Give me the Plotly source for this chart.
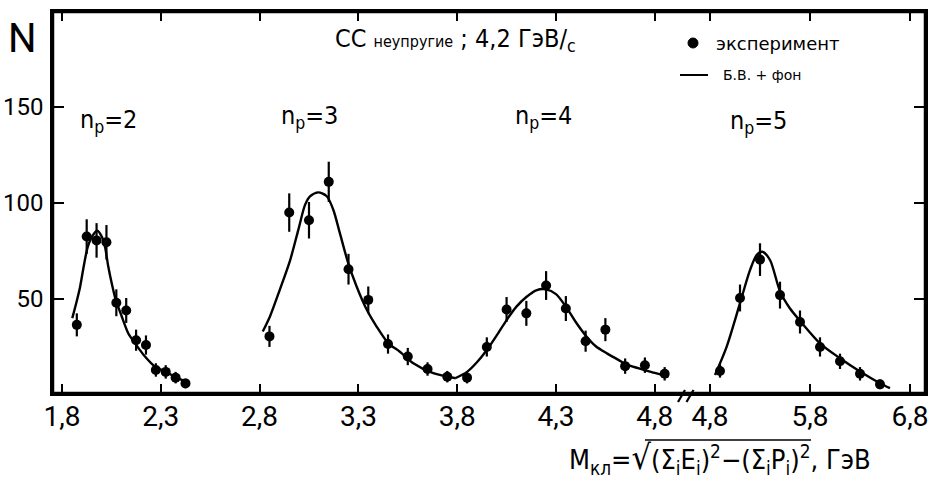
import plotly.graph_objects as go

# ---------------- data ----------------
np2_x = [1.875, 1.925, 1.975, 2.025, 2.075, 2.125, 2.175, 2.225, 2.275, 2.325, 2.375, 2.425]
np2_n = [36.5, 82.5, 80.5, 79.5, 48, 44, 28.5, 26, 13, 12, 9, 6]
np2_err = [6, 9, 9, 9, 7, 6.5, 5.5, 5, 3.5, 3.5, 3, 2.5]

np3_x = [2.85, 2.95, 3.05, 3.15, 3.25, 3.35, 3.45, 3.55, 3.65, 3.75]
np3_n = [30.5, 95, 91, 111, 65.5, 49.5, 26.5, 20, 13.5, 9.5]
np3_err = [5.5, 10, 9.5, 10.5, 8, 7, 5, 4.5, 3.5, 3]

np4_x = [3.85, 3.95, 4.05, 4.15, 4.25, 4.35, 4.45, 4.55, 4.65, 4.75, 4.85]
np4_n = [9, 25, 44.5, 42.5, 57, 45, 28, 34, 15, 15.5, 11]
np4_err = [3, 5, 6.5, 6.5, 7.5, 6.5, 5.5, 6, 4, 4, 3.5]

np5_x = [4.9, 5.1, 5.3, 5.5, 5.7, 5.9, 6.1, 6.3, 6.5]
np5_n = [12.5, 50.5, 70.5, 52, 38, 25, 17.5, 11, 5.5]
np5_err = [3.5, 7, 8.5, 7, 6, 5, 4, 3.5, 2.5]

c2_x = [1.852, 1.870, 1.891, 1.910, 1.930, 1.955, 1.979, 2.001, 2.018, 2.034, 2.052,
        2.072, 2.102, 2.136, 2.169, 2.220, 2.271, 2.338, 2.406, 2.439]
c2_n = [40, 47, 56, 67, 77, 83, 85.5, 82.5, 77, 67, 58, 49.5, 41, 32, 27, 20, 14.7, 11.3, 7.8, 6.4]

c3_x = [2.816, 2.853, 2.903, 2.954, 2.996, 3.030, 3.055, 3.097, 3.140, 3.173, 3.207,
        3.249, 3.291, 3.342, 3.393, 3.451, 3.510, 3.578, 3.679, 3.792]
c3_n = [33, 41, 55, 70, 86, 99, 103.5, 105.5, 103.5, 96.5, 84, 68.5, 56.5, 44.5, 35.5,
        27, 22.5, 16.5, 11.3, 8.7]

c4_x = [3.79, 3.85, 3.90, 3.95, 4.00, 4.05, 4.10, 4.15, 4.20, 4.25, 4.30, 4.35, 4.40,
        4.45, 4.50, 4.56, 4.62, 4.66, 4.74, 4.80, 4.87]
c4_n = [8.7, 12, 17, 23.4, 31, 39, 46, 51, 54.5, 55, 52.5, 46, 38, 31, 25.5, 21.5, 18,
        15.8, 13.2, 11.5, 9.5]

c5_x = [4.85, 4.967, 5.10, 5.20, 5.267, 5.323, 5.40, 5.50, 5.60, 5.707, 5.90, 6.10, 6.30, 6.50, 6.60]
c5_n = [10.4, 25.2, 47.8, 65, 72.9, 74.6, 70.3, 54, 45, 38.2, 26.9, 19.1, 12.2, 6.1, 3.5]

left_ticks = [1.8, 2.3, 2.8, 3.3, 3.8, 4.3, 4.8]
left_ticktext = ["1,8", "2,3", "2,8", "3,3", "3,8", "4,3", "4,8"]
right_ticks = [4.8, 5.8, 6.8]
right_ticktext = ["4,8", "5,8", "6,8"]
y_ticks = [50, 100, 150]
y_ticktext = ["50", "100", "150"]

group_labels = ["n<sub>p</sub>=2", "n<sub>p</sub>=3", "n<sub>p</sub>=4", "n<sub>p</sub>=5"]

# ---------------- figure ----------------
W, H = 933, 485
ML, MR, MT, MB = 53, 8, 12, 92
PW, PH = W - ML - MR, H - MT - MB
FONT = "DejaVu Sans Condensed, Roboto, sans-serif"
TICKFONT = "Roboto, sans-serif"
HAND = "DejaVu Sans, sans-serif"


def px(x):
    return (x - ML) / PW


def py(y):
    return (H - MB - y) / PH


brk = px(686)

fig = go.Figure()

curve_line = dict(color="black", width=2.4, shape="spline", smoothing=0.8)
for xs, ns in [(c2_x, c2_n), (c3_x, c3_n), (c4_x, c4_n)]:
    fig.add_trace(go.Scatter(x=xs, y=ns, mode="lines", xaxis="x", yaxis="y",
                             line=curve_line, hoverinfo="skip", name="Б.В. + фон"))
fig.add_trace(go.Scatter(x=c5_x, y=c5_n, mode="lines", xaxis="x2", yaxis="y2",
                         line=curve_line, hoverinfo="skip", name="Б.В. + фон"))

for xs, ns, es in [(np2_x, np2_n, np2_err), (np3_x, np3_n, np3_err), (np4_x, np4_n, np4_err)]:
    fig.add_trace(go.Scatter(x=xs, y=ns, mode="markers", xaxis="x", yaxis="y",
                             marker=dict(color="black", size=10),
                             error_y=dict(type="data", array=es, color="black", thickness=2.2, width=0),
                             name="эксперимент"))
fig.add_trace(go.Scatter(x=np5_x, y=np5_n, mode="markers", xaxis="x2", yaxis="y2",
                         marker=dict(color="black", size=10),
                         error_y=dict(type="data", array=np5_err, color="black", thickness=2.2, width=0),
                         name="эксперимент"))

axis_common = dict(ticks="inside", tickwidth=2, tickcolor="black", showline=True,
                   linewidth=2.5, linecolor="black", mirror="ticks", showgrid=False,
                   zeroline=False, automargin=False, ticklabelstandoff=-3,
                   tickfont=dict(family=TICKFONT, size=28, color="black"))
yrange = [1, 199.5]

fig.update_layout(
    width=W, height=H,
    margin=dict(l=ML, r=MR, t=MT, b=MB, autoexpand=False),
    paper_bgcolor="white", plot_bgcolor="white",
    showlegend=False,
    xaxis=dict(domain=[0, brk], range=[1.7545, 4.958], anchor="y",
               tickvals=left_ticks, ticktext=left_ticktext, ticklen=9, **axis_common),
    xaxis2=dict(domain=[brk, 1], range=[4.56, 6.95], anchor="y2",
                tickvals=right_ticks, ticktext=right_ticktext, ticklen=9, **axis_common),
    yaxis=dict(range=yrange, anchor="x", tickvals=y_ticks, ticktext=y_ticktext,
               ticklen=11, ticks="inside", tickwidth=2, tickcolor="black", showline=True,
               linewidth=2.5, linecolor="black", mirror=False, showgrid=False, zeroline=False,
               ticklabelstandoff=2, automargin=False,
               tickfont=dict(family=TICKFONT, size=24, color="black")),
    yaxis2=dict(range=yrange, anchor="x2", side="right", tickvals=y_ticks,
                ticklen=11, ticks="inside", tickwidth=2, tickcolor="black", showline=True,
                linewidth=2.5, linecolor="black", showgrid=False, zeroline=False,
                showticklabels=False, automargin=False),
)

shapes = []
# frame (keeps the border continuous across the break)
shapes.append(dict(type="rect", xref="paper", yref="paper", x0=0, x1=1, y0=0, y1=1,
                   line=dict(color="black", width=2.5)))
# axis break marks
for x0 in (678, 686.5):
    shapes.append(dict(type="line", xref="paper", yref="paper",
                       x0=px(x0), y0=py(402), x1=px(x0 + 7), y1=py(390),
                       line=dict(color="black", width=2.2)))
# legend glyphs
shapes.append(dict(type="circle", xref="paper", yref="paper",
                   x0=px(688), x1=px(698), y0=py(48), y1=py(38),
                   fillcolor="black", line=dict(color="black", width=1)))
shapes.append(dict(type="line", xref="paper", yref="paper",
                   x0=px(680), x1=px(708), y0=py(75), y1=py(75),
                   line=dict(color="black", width=2)))
# vinculum of the square root in the axis title
shapes.append(dict(type="line", xref="paper", yref="paper",
                   x0=px(645), x1=px(811), y0=py(440), y1=py(440),
                   line=dict(color="black", width=1.6)))
fig.update_layout(shapes=shapes)

ann = []


def add_text(text, x, y, size, family=FONT, xanchor="center"):
    ann.append(dict(text=text, x=px(x), y=py(y), xref="paper", yref="paper",
                    showarrow=False, xanchor=xanchor, yanchor="middle",
                    font=dict(family=family, size=size, color="black")))


add_text("N", 22, 38, 40, family=TICKFONT)
add_text("CC <span style='font-size:16px'>неупругие</span> ; 4,2 ГэВ/<sub>с</sub>", 455, 40, 25)
for lab, (x, y) in zip(group_labels, [(108, 121), (309, 117), (543, 117), (758, 122)]):
    add_text(lab, x, y, 25)
add_text("эксперимент", 714, 43, 18, family=HAND, xanchor="left")
add_text("Б.В. + фон", 721, 75, 14, family=HAND, xanchor="left")
add_text("M<sub>кл</sub>=<span style='font-size:34px'>√</span>(Σ<sub>i</sub>E<sub>i</sub>)<sup>2</sup>−(Σ<sub>i</sub>P<sub>i</sub>)<sup>2</sup>, ГэВ",
         720, 458, 27)
fig.update_layout(annotations=ann)

fig.write_html("out.html")
